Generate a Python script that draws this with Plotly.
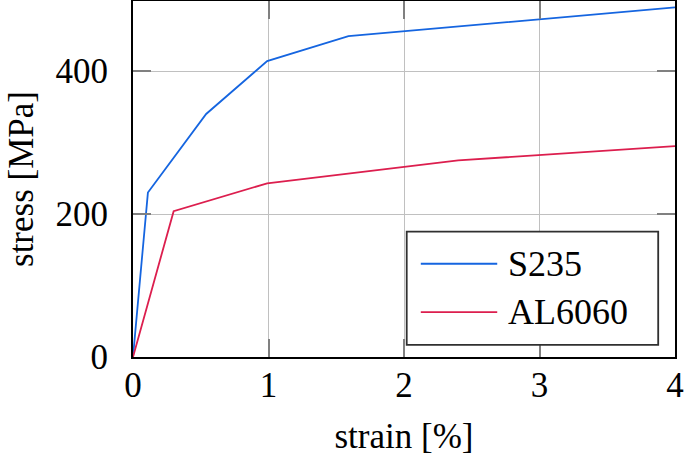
import plotly.graph_objects as go

# Data
strain_s235 = [0, 0.11, 0.54, 0.99, 1.59, 4.0]
stress_s235 = [0, 230, 340, 414, 449, 489]
strain_al6060 = [0, 0.30, 0.99, 2.40, 4.0]
stress_al6060 = [0, 204, 243, 275, 295]
x_ticks = [0, 1, 2, 3, 4]
y_ticks = [0, 200, 400]
series_names = ["S235", "AL6060"]
series_colors = ["#1565e0", "#dc1e4e"]

FONT = "Liberation Serif"
FS = 35

fig = go.Figure()
fig.add_trace(go.Scatter(x=strain_s235, y=stress_s235, mode="lines", name=series_names[0],
                         line=dict(color=series_colors[0], width=1.8), showlegend=False))
fig.add_trace(go.Scatter(x=strain_al6060, y=stress_al6060, mode="lines", name=series_names[1],
                         line=dict(color=series_colors[1], width=1.8), showlegend=False))

axis_common = dict(
    showgrid=True, gridcolor="#c0c0c0", gridwidth=1,
    showline=True, linecolor="black", linewidth=2, mirror="ticks",
    ticks="inside", ticklen=18, tickwidth=1.5, tickcolor="#808080",
    zeroline=False, automargin=False,
    tickfont=dict(family=FONT, size=FS, color="black"),
)

fig.update_layout(
    width=685, height=456,
    margin=dict(l=133, r=10, t=1, b=99),
    paper_bgcolor="white", plot_bgcolor="white",
    font=dict(family=FONT, size=FS, color="black"),
    xaxis=dict(range=[0, 4], tickvals=x_ticks, ticktext=[str(v) for v in x_ticks],
               ticklabelstandoff=-4,
               title=dict(text="strain [%]", font=dict(family=FONT, size=FS), standoff=36),
               **axis_common),
    yaxis=dict(range=[0, 498], tickvals=y_ticks, ticktext=[str(v) for v in y_ticks],
               ticklabelstandoff=16,
               title=dict(text="stress [MPa]", font=dict(family=FONT, size=FS), standoff=11),
               **axis_common),
)

# Custom legend box (paper coordinates)
x0p, x1p = 0.505, 0.969
y1p, y0p = 0.352, 0.034
fig.add_shape(type="rect", xref="paper", yref="paper", x0=x0p, x1=x1p, y0=y0p, y1=y1p,
              line=dict(color="#303030", width=1.8), fillcolor="white", layer="above")
rows = [0.262, 0.126]
for name, color, yy in zip(series_names, series_colors, rows):
    fig.add_shape(type="line", xref="paper", yref="paper", x0=0.531, x1=0.672, y0=yy, y1=yy,
                  line=dict(color=color, width=1.8), layer="above")
    fig.add_annotation(xref="paper", yref="paper", x=0.688, y=yy, text=name, showarrow=False,
                       xanchor="left", yanchor="middle",
                       font=dict(family=FONT, size=36, color="black"))

fig.write_html("out.html", config={"displayModeBar": False},
               post_script="document.body.style.margin='0';document.body.style.overflow='hidden';")
